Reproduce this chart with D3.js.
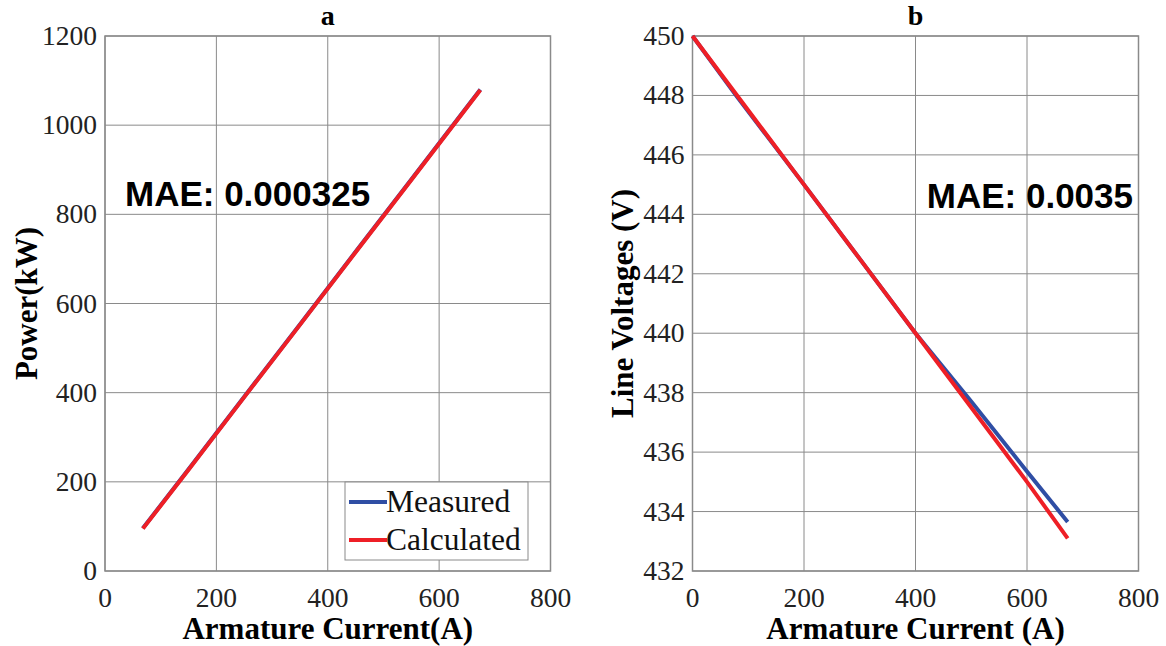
<!DOCTYPE html>
<html>
<head>
<meta charset="utf-8">
<script src="https://cdn.jsdelivr.net/npm/d3@7"></script>
<style>
  body { margin: 0; background: #fff; }
  svg { display: block; }
</style>
</head>
<body>
<div id="chart"></div>
<script>
// panel a: power vs armature current
const currentA = [68, 150, 250, 350, 450, 550, 674];
const powerMeasured = [96, 228, 391, 553, 716, 878, 1080];
const powerCalculated = [95, 227, 390, 552, 715, 877, 1079];

// panel b: line voltage vs armature current
const currentB = [0, 80, 200, 300, 400, 500, 600, 673];
const voltMeasured = [450, 447.95, 445, 442.5, 440, 437.7, 435.35, 433.65];
const voltCalculated = [450, 448.0, 445, 442.5, 440, 437.5, 435.0, 433.1];

const xTicks = [0, 200, 400, 600, 800];
const yTicksA = [0, 200, 400, 600, 800, 1000, 1200];
const yTicksB = [432, 434, 436, 438, 440, 442, 444, 446, 448, 450];

const W = 1166, H = 646;
const BLUE = '#2f4ea4', RED = '#ee1f26', GRID = '#8a8a8a';
const SERIF = "'Liberation Serif', 'Times New Roman', serif";

const svg = d3.select('#chart').append('svg')
  .attr('width', W).attr('height', H);

function panel(opts) {
  const { left, right, top, bottom, yDomain, yTicks, xs, series, title, yLabel, yLabelX, xLabel, mae } = opts;
  const x = d3.scaleLinear().domain([0, 800]).range([left, right]);
  const y = d3.scaleLinear().domain(yDomain).range([bottom, top]);
  const g = svg.append('g');

  // grid
  g.selectAll('.vg').data(xTicks).enter().append('line')
    .attr('x1', d => x(d)).attr('x2', d => x(d))
    .attr('y1', top).attr('y2', bottom)
    .attr('stroke', GRID).attr('stroke-width', 1);
  g.selectAll('.hg').data(yTicks).enter().append('line')
    .attr('x1', left).attr('x2', right)
    .attr('y1', d => y(d)).attr('y2', d => y(d))
    .attr('stroke', GRID).attr('stroke-width', 1);
  g.append('rect')
    .attr('x', left).attr('y', top)
    .attr('width', right - left).attr('height', bottom - top)
    .attr('fill', 'none').attr('stroke', GRID).attr('stroke-width', 1.5);

  // tick labels
  g.selectAll('.xt').data(xTicks).enter().append('text')
    .attr('x', d => x(d)).attr('y', bottom + 36)
    .attr('text-anchor', 'middle')
    .attr('font-family', SERIF).attr('font-size', 27.5).attr('fill', '#222')
    .text(d => d);
  g.selectAll('.yt').data(yTicks).enter().append('text')
    .attr('x', left - 8).attr('y', d => y(d) + 9)
    .attr('text-anchor', 'end')
    .attr('font-family', SERIF).attr('font-size', 27.5).attr('fill', '#222')
    .text(d => d);

  // lines
  series.forEach(s => {
    const line = d3.line().x((d, i) => x(xs[i])).y(d => y(d));
    g.append('path').datum(s.values)
      .attr('d', line)
      .attr('fill', 'none')
      .attr('stroke', s.color)
      .attr('stroke-width', 4);
  });

  // titles
  g.append('text')
    .attr('x', (left + right) / 2).attr('y', 25)
    .attr('text-anchor', 'middle')
    .attr('font-family', SERIF).attr('font-weight', 'bold').attr('font-size', 28)
    .text(title);
  g.append('text')
    .attr('x', (left + right) / 2).attr('y', bottom + 68)
    .attr('text-anchor', 'middle')
    .attr('font-family', SERIF).attr('font-weight', 'bold').attr('font-size', 31)
    .text(xLabel);
  g.append('text')
    .attr('transform', `translate(${yLabelX},${(top + bottom) / 2}) rotate(-90)`)
    .attr('text-anchor', 'middle')
    .attr('font-family', SERIF).attr('font-weight', 'bold').attr('font-size', 31)
    .text(yLabel);

  g.append('text')
    .attr('x', mae.x).attr('y', mae.y)
    .attr('text-anchor', mae.anchor)
    .attr('font-family', "'Liberation Sans', Arial, sans-serif")
    .attr('font-weight', 'bold').attr('font-size', 35)
    .text(mae.text);

  return { x, y, g };
}

const pa = panel({
  left: 105, right: 550.5, top: 36, bottom: 571,
  yDomain: [0, 1200], yTicks: yTicksA, xs: currentA,
  series: [
    { values: powerMeasured, color: BLUE },
    { values: powerCalculated, color: RED }
  ],
  title: 'a', yLabel: 'Power(kW)', yLabelX: 37, xLabel: 'Armature Current(A)',
  mae: { x: 125, y: 206, anchor: 'start', text: 'MAE: 0.000325' }
});

panel({
  left: 692.5, right: 1138.5, top: 36, bottom: 571,
  yDomain: [432, 450], yTicks: yTicksB, xs: currentB,
  series: [
    { values: voltMeasured, color: BLUE },
    { values: voltCalculated, color: RED }
  ],
  title: 'b', yLabel: 'Line Voltages (V)', yLabelX: 633, xLabel: 'Armature Current (A)',
  mae: { x: 1133, y: 208, anchor: 'end', text: 'MAE: 0.0035' }
});

// legend in panel a
const legendItems = [
  { label: 'Measured', color: BLUE },
  { label: 'Calculated', color: RED }
];
const lg = pa.g.append('g').attr('transform', 'translate(345,482)');
lg.append('rect')
  .attr('width', 183).attr('height', 78)
  .attr('fill', '#fff').attr('stroke', GRID).attr('stroke-width', 1);
legendItems.forEach((d, i) => {
  const cy = 20 + i * 38;
  lg.append('line')
    .attr('x1', 4).attr('x2', 42).attr('y1', cy).attr('y2', cy)
    .attr('stroke', d.color).attr('stroke-width', 4);
  lg.append('text')
    .attr('x', 41).attr('y', cy + 10)
    .attr('font-family', SERIF).attr('font-size', 31.5).attr('fill', '#111')
    .text(d.label);
});
</script>
</body>
</html>
